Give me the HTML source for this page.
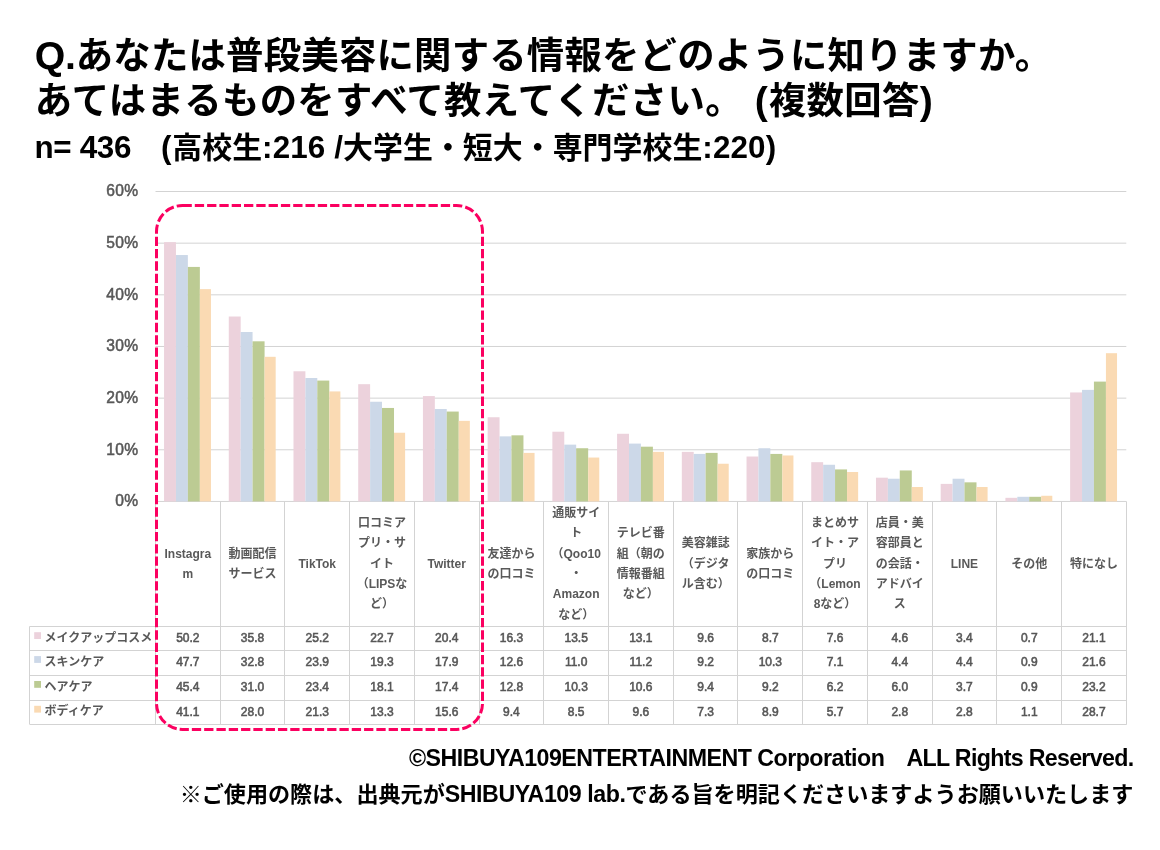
<!DOCTYPE html>
<html lang="ja">
<head>
<meta charset="utf-8">
<title>美容に関する情報をどのように知りますか</title>
<style>
html,body{margin:0;padding:0;background:#fff;}
body{width:1160px;height:850px;position:relative;overflow:hidden;font-family:"Liberation Sans","Noto Sans CJK JP",sans-serif;color:#000;}
.t{position:absolute;white-space:nowrap;margin:0;}
.title{left:34.8px;font-size:37.4px;font-weight:700;line-height:46px;}
.sub{left:34.5px;font-size:29.9px;font-weight:700;line-height:40px;}
.foot{right:26.6px;font-size:22.1px;font-weight:700;line-height:32px;text-align:right;}
.l{font-size:1.05em;white-space:pre;}
.ax{font-size:15.6px;letter-spacing:0.3px;color:#595959;width:60px;text-align:right;left:78.4px;line-height:18px;font-weight:400;-webkit-text-stroke:0.5px #555;}
.cat{position:absolute;font-size:12px;font-weight:700;color:#595959;text-align:center;line-height:20.3px;white-space:nowrap;display:flex;flex-direction:column;justify-content:center;}
.num{position:absolute;font-size:12px;font-weight:400;-webkit-text-stroke:0.55px #555;color:#595959;text-align:center;line-height:24px;white-space:nowrap;}
.leg{position:absolute;font-size:12px;font-weight:700;color:#595959;line-height:24px;white-space:nowrap;left:44.5px;}
svg{position:absolute;left:0;top:0;}
</style>
</head>
<body>
<div class="t title" style="top:31.8px;letter-spacing:0.2px"><span class="l" style="letter-spacing:-0.25px">Q.</span>あなたは普段美容に関する情報をどのように知りますか。</div>
<div class="t title" style="top:76.5px;letter-spacing:0.33px">あてはまるものをすべて教えてください。<span class="l" style="letter-spacing:1.00px"> (</span>複数回答<span class="l" style="letter-spacing:1.00px">)</span></div>
<div class="t sub" style="top:128px;letter-spacing:0.05px"><span class="l" style="letter-spacing:-0.34px">n= 436</span>　<span class="l" style="letter-spacing:0.86px">(</span>高校生<span class="l" style="letter-spacing:0.12px">:216 /</span>大学生・短大・専門学校生<span class="l" style="letter-spacing:0.13px">:220)</span></div>
<svg width="1160" height="850" viewBox="0 0 1160 850">
<line x1="155.5" y1="501.45" x2="1126.3" y2="501.45" stroke="#D3D3D3" stroke-width="1"/>
<line x1="155.5" y1="449.79" x2="1126.3" y2="449.79" stroke="#D3D3D3" stroke-width="1"/>
<line x1="155.5" y1="398.13" x2="1126.3" y2="398.13" stroke="#D3D3D3" stroke-width="1"/>
<line x1="155.5" y1="346.48" x2="1126.3" y2="346.48" stroke="#D3D3D3" stroke-width="1"/>
<line x1="155.5" y1="294.82" x2="1126.3" y2="294.82" stroke="#D3D3D3" stroke-width="1"/>
<line x1="155.5" y1="243.16" x2="1126.3" y2="243.16" stroke="#D3D3D3" stroke-width="1"/>
<line x1="155.5" y1="191.50" x2="1126.3" y2="191.50" stroke="#D3D3D3" stroke-width="1"/>
<rect x="164.05" y="242.13" width="11.90" height="259.32" fill="#ECD2DC"/>
<rect x="175.95" y="255.04" width="11.90" height="246.41" fill="#CCD8E8"/>
<rect x="187.85" y="266.92" width="12.00" height="234.53" fill="#BCCB93"/>
<rect x="199.85" y="289.13" width="11.10" height="212.32" fill="#FADAB3"/>
<rect x="228.77" y="316.51" width="11.90" height="184.94" fill="#ECD2DC"/>
<rect x="240.67" y="332.01" width="11.90" height="169.44" fill="#CCD8E8"/>
<rect x="252.57" y="341.31" width="12.00" height="160.14" fill="#BCCB93"/>
<rect x="264.57" y="356.81" width="11.10" height="144.64" fill="#FADAB3"/>
<rect x="293.49" y="371.27" width="11.90" height="130.18" fill="#ECD2DC"/>
<rect x="305.39" y="377.99" width="11.90" height="123.46" fill="#CCD8E8"/>
<rect x="317.29" y="380.57" width="12.00" height="120.88" fill="#BCCB93"/>
<rect x="329.29" y="391.42" width="11.10" height="110.03" fill="#FADAB3"/>
<rect x="358.21" y="384.19" width="11.90" height="117.26" fill="#ECD2DC"/>
<rect x="370.11" y="401.75" width="11.90" height="99.70" fill="#CCD8E8"/>
<rect x="382.01" y="407.95" width="12.00" height="93.50" fill="#BCCB93"/>
<rect x="394.01" y="432.74" width="11.10" height="68.71" fill="#FADAB3"/>
<rect x="422.93" y="396.07" width="11.90" height="105.38" fill="#ECD2DC"/>
<rect x="434.83" y="408.98" width="11.90" height="92.47" fill="#CCD8E8"/>
<rect x="446.73" y="411.56" width="12.00" height="89.89" fill="#BCCB93"/>
<rect x="458.73" y="420.86" width="11.10" height="80.59" fill="#FADAB3"/>
<rect x="487.65" y="417.25" width="11.90" height="84.20" fill="#ECD2DC"/>
<rect x="499.55" y="436.36" width="11.90" height="65.09" fill="#CCD8E8"/>
<rect x="511.45" y="435.33" width="12.00" height="66.12" fill="#BCCB93"/>
<rect x="523.45" y="452.89" width="11.10" height="48.56" fill="#FADAB3"/>
<rect x="552.37" y="431.71" width="11.90" height="69.74" fill="#ECD2DC"/>
<rect x="564.27" y="444.63" width="11.90" height="56.82" fill="#CCD8E8"/>
<rect x="576.17" y="448.24" width="12.00" height="53.21" fill="#BCCB93"/>
<rect x="588.17" y="457.54" width="11.10" height="43.91" fill="#FADAB3"/>
<rect x="617.09" y="433.78" width="11.90" height="67.67" fill="#ECD2DC"/>
<rect x="628.99" y="443.59" width="11.90" height="57.86" fill="#CCD8E8"/>
<rect x="640.89" y="446.69" width="12.00" height="54.76" fill="#BCCB93"/>
<rect x="652.89" y="451.86" width="11.10" height="49.59" fill="#FADAB3"/>
<rect x="681.81" y="451.86" width="11.90" height="49.59" fill="#ECD2DC"/>
<rect x="693.71" y="453.92" width="11.90" height="47.53" fill="#CCD8E8"/>
<rect x="705.61" y="452.89" width="12.00" height="48.56" fill="#BCCB93"/>
<rect x="717.61" y="463.74" width="11.10" height="37.71" fill="#FADAB3"/>
<rect x="746.53" y="456.51" width="11.90" height="44.94" fill="#ECD2DC"/>
<rect x="758.43" y="448.24" width="11.90" height="53.21" fill="#CCD8E8"/>
<rect x="770.33" y="453.92" width="12.00" height="47.53" fill="#BCCB93"/>
<rect x="782.33" y="455.47" width="11.10" height="45.98" fill="#FADAB3"/>
<rect x="811.25" y="462.19" width="11.90" height="39.26" fill="#ECD2DC"/>
<rect x="823.15" y="464.77" width="11.90" height="36.68" fill="#CCD8E8"/>
<rect x="835.05" y="469.42" width="12.00" height="32.03" fill="#BCCB93"/>
<rect x="847.05" y="472.00" width="11.10" height="29.45" fill="#FADAB3"/>
<rect x="875.97" y="477.69" width="11.90" height="23.76" fill="#ECD2DC"/>
<rect x="887.87" y="478.72" width="11.90" height="22.73" fill="#CCD8E8"/>
<rect x="899.77" y="470.45" width="12.00" height="31.00" fill="#BCCB93"/>
<rect x="911.77" y="486.99" width="11.10" height="14.46" fill="#FADAB3"/>
<rect x="940.69" y="483.89" width="11.90" height="17.56" fill="#ECD2DC"/>
<rect x="952.59" y="478.72" width="11.90" height="22.73" fill="#CCD8E8"/>
<rect x="964.49" y="482.34" width="12.00" height="19.11" fill="#BCCB93"/>
<rect x="976.49" y="486.99" width="11.10" height="14.46" fill="#FADAB3"/>
<rect x="1005.41" y="497.83" width="11.90" height="3.62" fill="#ECD2DC"/>
<rect x="1017.31" y="496.80" width="11.90" height="4.65" fill="#CCD8E8"/>
<rect x="1029.21" y="496.80" width="12.00" height="4.65" fill="#BCCB93"/>
<rect x="1041.21" y="495.77" width="11.10" height="5.68" fill="#FADAB3"/>
<rect x="1070.13" y="392.45" width="11.90" height="109.00" fill="#ECD2DC"/>
<rect x="1082.03" y="389.87" width="11.90" height="111.58" fill="#CCD8E8"/>
<rect x="1093.93" y="381.60" width="12.00" height="119.85" fill="#BCCB93"/>
<rect x="1105.93" y="353.19" width="11.10" height="148.26" fill="#FADAB3"/>
<line x1="155.5" y1="501.4" x2="155.5" y2="724.2" stroke="#D3D3D3" stroke-width="1"/>
<line x1="220.5" y1="501.4" x2="220.5" y2="724.2" stroke="#D3D3D3" stroke-width="1"/>
<line x1="284.5" y1="501.4" x2="284.5" y2="724.2" stroke="#D3D3D3" stroke-width="1"/>
<line x1="349.5" y1="501.4" x2="349.5" y2="724.2" stroke="#D3D3D3" stroke-width="1"/>
<line x1="414.5" y1="501.4" x2="414.5" y2="724.2" stroke="#D3D3D3" stroke-width="1"/>
<line x1="479.5" y1="501.4" x2="479.5" y2="724.2" stroke="#D3D3D3" stroke-width="1"/>
<line x1="543.5" y1="501.4" x2="543.5" y2="724.2" stroke="#D3D3D3" stroke-width="1"/>
<line x1="608.5" y1="501.4" x2="608.5" y2="724.2" stroke="#D3D3D3" stroke-width="1"/>
<line x1="673.5" y1="501.4" x2="673.5" y2="724.2" stroke="#D3D3D3" stroke-width="1"/>
<line x1="737.5" y1="501.4" x2="737.5" y2="724.2" stroke="#D3D3D3" stroke-width="1"/>
<line x1="802.5" y1="501.4" x2="802.5" y2="724.2" stroke="#D3D3D3" stroke-width="1"/>
<line x1="867.5" y1="501.4" x2="867.5" y2="724.2" stroke="#D3D3D3" stroke-width="1"/>
<line x1="932.5" y1="501.4" x2="932.5" y2="724.2" stroke="#D3D3D3" stroke-width="1"/>
<line x1="996.5" y1="501.4" x2="996.5" y2="724.2" stroke="#D3D3D3" stroke-width="1"/>
<line x1="1061.5" y1="501.4" x2="1061.5" y2="724.2" stroke="#D3D3D3" stroke-width="1"/>
<line x1="1126.5" y1="501.4" x2="1126.5" y2="724.2" stroke="#D3D3D3" stroke-width="1"/>
<line x1="29.5" y1="626.5" x2="29.5" y2="724.2" stroke="#D3D3D3" stroke-width="1"/>
<line x1="29.5" y1="626.5" x2="1126.8" y2="626.5" stroke="#D3D3D3" stroke-width="1"/>
<line x1="29.5" y1="650.5" x2="1126.8" y2="650.5" stroke="#D3D3D3" stroke-width="1"/>
<line x1="29.5" y1="675.5" x2="1126.8" y2="675.5" stroke="#D3D3D3" stroke-width="1"/>
<line x1="29.5" y1="700.5" x2="1126.8" y2="700.5" stroke="#D3D3D3" stroke-width="1"/>
<line x1="29.5" y1="724.5" x2="1126.8" y2="724.5" stroke="#D3D3D3" stroke-width="1"/>
<rect x="34.2" y="632.2" width="6.8" height="6.8" fill="#ECD2DC"/>
<rect x="34.2" y="656.1" width="6.8" height="6.8" fill="#CCD8E8"/>
<rect x="34.2" y="681.0" width="6.8" height="6.8" fill="#BCCB93"/>
<rect x="34.2" y="705.8" width="6.8" height="6.8" fill="#FADAB3"/>
<rect x="156.5" y="205.5" width="326" height="523.9" rx="26" ry="26" fill="none" stroke="#FB0060" stroke-width="3" stroke-dasharray="9.3 3"/>
</svg>
<div class="t ax" style="top:492.2px">0%</div>
<div class="t ax" style="top:440.6px">10%</div>
<div class="t ax" style="top:388.9px">20%</div>
<div class="t ax" style="top:337.3px">30%</div>
<div class="t ax" style="top:285.6px">40%</div>
<div class="t ax" style="top:234.0px">50%</div>
<div class="t ax" style="top:182.3px">60%</div>
<div class="cat" style="left:155.5px;top:501.4px;width:64.7px;height:125.1px"><span>Instagra</span><span>m</span></div>
<div class="cat" style="left:220.2px;top:501.4px;width:64.7px;height:125.1px"><span>動画配信</span><span>サービス</span></div>
<div class="cat" style="left:284.9px;top:501.4px;width:64.7px;height:125.1px"><span>TikTok</span></div>
<div class="cat" style="left:349.7px;top:501.4px;width:64.7px;height:125.1px"><span>口コミア</span><span>プリ・サ</span><span>イト</span><span>（LIPSな</span><span>ど）</span></div>
<div class="cat" style="left:414.4px;top:501.4px;width:64.7px;height:125.1px"><span>Twitter</span></div>
<div class="cat" style="left:479.1px;top:501.4px;width:64.7px;height:125.1px"><span>友達から</span><span>の口コミ</span></div>
<div class="cat" style="left:543.8px;top:501.4px;width:64.7px;height:125.1px"><span>通販サイ</span><span>ト</span><span>（Qoo10</span><span>・</span><span>Amazon</span><span>など）</span></div>
<div class="cat" style="left:608.5px;top:501.4px;width:64.7px;height:125.1px"><span>テレビ番</span><span>組（朝の</span><span>情報番組</span><span>など）</span></div>
<div class="cat" style="left:673.3px;top:501.4px;width:64.7px;height:125.1px"><span>美容雑誌</span><span>（デジタ</span><span>ル含む）</span></div>
<div class="cat" style="left:738.0px;top:501.4px;width:64.7px;height:125.1px"><span>家族から</span><span>の口コミ</span></div>
<div class="cat" style="left:802.7px;top:501.4px;width:64.7px;height:125.1px"><span>まとめサ</span><span>イト・ア</span><span>プリ</span><span>（Lemon</span><span>8など）</span></div>
<div class="cat" style="left:867.4px;top:501.4px;width:64.7px;height:125.1px"><span>店員・美</span><span>容部員と</span><span>の会話・</span><span>アドバイ</span><span>ス</span></div>
<div class="cat" style="left:932.1px;top:501.4px;width:64.7px;height:125.1px"><span>LINE</span></div>
<div class="cat" style="left:996.9px;top:501.4px;width:64.7px;height:125.1px"><span>その他</span></div>
<div class="cat" style="left:1061.6px;top:501.4px;width:64.7px;height:125.1px"><span>特になし</span></div>
<div class="leg" style="top:625.7px">メイクアップコスメ</div>
<div class="num" style="left:155.5px;top:626.1px;width:64.7px">50.2</div>
<div class="num" style="left:220.2px;top:626.1px;width:64.7px">35.8</div>
<div class="num" style="left:284.9px;top:626.1px;width:64.7px">25.2</div>
<div class="num" style="left:349.7px;top:626.1px;width:64.7px">22.7</div>
<div class="num" style="left:414.4px;top:626.1px;width:64.7px">20.4</div>
<div class="num" style="left:479.1px;top:626.1px;width:64.7px">16.3</div>
<div class="num" style="left:543.8px;top:626.1px;width:64.7px">13.5</div>
<div class="num" style="left:608.5px;top:626.1px;width:64.7px">13.1</div>
<div class="num" style="left:673.3px;top:626.1px;width:64.7px">9.6</div>
<div class="num" style="left:738.0px;top:626.1px;width:64.7px">8.7</div>
<div class="num" style="left:802.7px;top:626.1px;width:64.7px">7.6</div>
<div class="num" style="left:867.4px;top:626.1px;width:64.7px">4.6</div>
<div class="num" style="left:932.1px;top:626.1px;width:64.7px">3.4</div>
<div class="num" style="left:996.9px;top:626.1px;width:64.7px">0.7</div>
<div class="num" style="left:1061.6px;top:626.1px;width:64.7px">21.1</div>
<div class="leg" style="top:649.6px">スキンケア</div>
<div class="num" style="left:155.5px;top:650.0px;width:64.7px">47.7</div>
<div class="num" style="left:220.2px;top:650.0px;width:64.7px">32.8</div>
<div class="num" style="left:284.9px;top:650.0px;width:64.7px">23.9</div>
<div class="num" style="left:349.7px;top:650.0px;width:64.7px">19.3</div>
<div class="num" style="left:414.4px;top:650.0px;width:64.7px">17.9</div>
<div class="num" style="left:479.1px;top:650.0px;width:64.7px">12.6</div>
<div class="num" style="left:543.8px;top:650.0px;width:64.7px">11.0</div>
<div class="num" style="left:608.5px;top:650.0px;width:64.7px">11.2</div>
<div class="num" style="left:673.3px;top:650.0px;width:64.7px">9.2</div>
<div class="num" style="left:738.0px;top:650.0px;width:64.7px">10.3</div>
<div class="num" style="left:802.7px;top:650.0px;width:64.7px">7.1</div>
<div class="num" style="left:867.4px;top:650.0px;width:64.7px">4.4</div>
<div class="num" style="left:932.1px;top:650.0px;width:64.7px">4.4</div>
<div class="num" style="left:996.9px;top:650.0px;width:64.7px">0.9</div>
<div class="num" style="left:1061.6px;top:650.0px;width:64.7px">21.6</div>
<div class="leg" style="top:674.5px">ヘアケア</div>
<div class="num" style="left:155.5px;top:674.9px;width:64.7px">45.4</div>
<div class="num" style="left:220.2px;top:674.9px;width:64.7px">31.0</div>
<div class="num" style="left:284.9px;top:674.9px;width:64.7px">23.4</div>
<div class="num" style="left:349.7px;top:674.9px;width:64.7px">18.1</div>
<div class="num" style="left:414.4px;top:674.9px;width:64.7px">17.4</div>
<div class="num" style="left:479.1px;top:674.9px;width:64.7px">12.8</div>
<div class="num" style="left:543.8px;top:674.9px;width:64.7px">10.3</div>
<div class="num" style="left:608.5px;top:674.9px;width:64.7px">10.6</div>
<div class="num" style="left:673.3px;top:674.9px;width:64.7px">9.4</div>
<div class="num" style="left:738.0px;top:674.9px;width:64.7px">9.2</div>
<div class="num" style="left:802.7px;top:674.9px;width:64.7px">6.2</div>
<div class="num" style="left:867.4px;top:674.9px;width:64.7px">6.0</div>
<div class="num" style="left:932.1px;top:674.9px;width:64.7px">3.7</div>
<div class="num" style="left:996.9px;top:674.9px;width:64.7px">0.9</div>
<div class="num" style="left:1061.6px;top:674.9px;width:64.7px">23.2</div>
<div class="leg" style="top:699.3px">ボディケア</div>
<div class="num" style="left:155.5px;top:699.7px;width:64.7px">41.1</div>
<div class="num" style="left:220.2px;top:699.7px;width:64.7px">28.0</div>
<div class="num" style="left:284.9px;top:699.7px;width:64.7px">21.3</div>
<div class="num" style="left:349.7px;top:699.7px;width:64.7px">13.3</div>
<div class="num" style="left:414.4px;top:699.7px;width:64.7px">15.6</div>
<div class="num" style="left:479.1px;top:699.7px;width:64.7px">9.4</div>
<div class="num" style="left:543.8px;top:699.7px;width:64.7px">8.5</div>
<div class="num" style="left:608.5px;top:699.7px;width:64.7px">9.6</div>
<div class="num" style="left:673.3px;top:699.7px;width:64.7px">7.3</div>
<div class="num" style="left:738.0px;top:699.7px;width:64.7px">8.9</div>
<div class="num" style="left:802.7px;top:699.7px;width:64.7px">5.7</div>
<div class="num" style="left:867.4px;top:699.7px;width:64.7px">2.8</div>
<div class="num" style="left:932.1px;top:699.7px;width:64.7px">2.8</div>
<div class="num" style="left:996.9px;top:699.7px;width:64.7px">1.1</div>
<div class="num" style="left:1061.6px;top:699.7px;width:64.7px">28.7</div>
<div class="t foot" style="top:742.4px"><span class="l" style="letter-spacing:-0.51px">©SHIBUYA109ENTERTAINMENT Corporation</span>　<span class="l" style="letter-spacing:-0.68px">ALL Rights Reserved.</span></div>
<div class="t foot" style="top:777.7px">※ご使用の際は、出典元が<span class="l" style="letter-spacing:-0.44px">SHIBUYA109 lab.</span>である旨を明記くださいますようお願いいたします</div>
</body>
</html>
